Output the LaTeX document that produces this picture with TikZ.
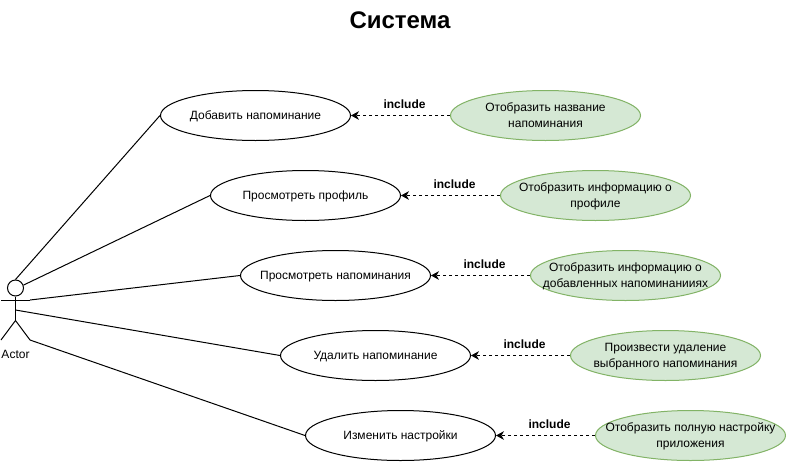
\documentclass[tikz,border=0pt]{standalone}
\usepackage{fontspec}
\setmainfont{Liberation Sans}
\usetikzlibrary{shapes.geometric,arrows.meta}
\newcommand{\dong}[1]{\makebox[0pt]{\raisebox{0pt}[7.5pt][1pt]{#1}}}
\definecolor{xanh}{HTML}{D5E8D4}
\definecolor{vien}{HTML}{82B366}
\begin{document}
\begin{tikzpicture}[x=0.75pt,y=-0.75pt,>={Stealth[length=6pt,width=6.5pt]},font=\fontsize{9}{12}\selectfont]
	\tikzset{
		vieclam/.style={draw,ellipse,minimum width=142.5pt,minimum height=37.5pt,inner sep=0pt,align=center,line width=0.75pt},
		hienthi/.style={vieclam,draw=vien,fill=xanh},
		noi/.style={->,dash pattern=on 2.25pt off 2.25pt,line width=0.75pt},
		nhan/.style={pos=0.5,above=4.5pt,xshift=3pt,inner sep=0pt,font=\fontsize{9}{12}\selectfont\bfseries}
	}
	\useasboundingbox (0,0) rectangle (786,461);
	
	% Tiêu đề
	\path (400,20) node[font=\fontsize{18}{22}\selectfont\bfseries] (tieude) {Система};
	
	% Người dùng (Actor)
	\path (15.5,288) node[draw,circle,minimum size=12pt,inner sep=0pt,line width=0.75pt] (dau) {}
	(15.5,300) coordinate (vai)
	(1,300) coordinate (tayT)
	(30,300) coordinate (tayP)
	(15.5,310) coordinate (than)
	(15.5,320.5) coordinate (hong)
	(1,340) coordinate (chanT)
	(30,340) coordinate (chanP)
	(15.5,354) node[inner sep=0pt] (actor) {Actor};
	\draw[line width=0.75pt] (dau.south) -- (vai) -- (than) -- (hong);
	\draw[line width=0.75pt] (tayT) -- (tayP);
	\draw[line width=0.75pt] (chanT) -- (hong) -- (chanP);
	
	% Các ca sử dụng
	\path (255.5,115.5) node[vieclam] (them) {\dong{Добавить напоминание}}
	(305.5,195.5) node[vieclam] (hoso) {\dong{Просмотреть профиль}}
	(335.5,275.5) node[vieclam] (xem) {\dong{Просмотреть напоминания}}
	(375.5,355.5) node[vieclam] (xoa) {\dong{Удалить напоминание}}
	(400.5,435.5) node[vieclam] (caidat) {\dong{Изменить настройки}};
	
	% Các ca được bao gồm
	\path (545.5,115.5) node[hienthi] (ten) {\dong{Отобразить название}\\\dong{напоминания}}
	(595.5,195.5) node[hienthi] (ttin) {\dong{Отобразить информацию о}\\\dong{профиле}}
	(625.5,275.5) node[hienthi] (ds) {\dong{Отобразить информацию о}\\\dong{добавленных напоминанииях}}
	(665.5,355.5) node[hienthi] (chon) {\dong{Произвести удаление}\\\dong{выбранного напоминания}}
	(690.5,435.5) node[hienthi] (daydu) {\dong{Отобразить полную настройку}\\\dong{приложения}};
	
	% Đường nối từ Actor
	\draw[line width=0.75pt] (dau.north) -- (them.west);
	\draw[line width=0.75pt] (dau.20) -- (hoso.west);
	\draw[line width=0.75pt] (tayP) -- (xem.west);
	\draw[line width=0.75pt] (than) -- (xoa.west);
	\draw[line width=0.75pt] (chanP) -- (caidat.west);
	
	% Mũi tên include
	\draw[noi] (ten.west) -- (them.east) node[nhan]{include};
	\draw[noi] (ttin.west) -- (hoso.east) node[nhan]{include};
	\draw[noi] (ds.west) -- (xem.east) node[nhan]{include};
	\draw[noi] (chon.west) -- (xoa.east) node[nhan]{include};
	\draw[noi] (daydu.west) -- (caidat.east) node[nhan]{include};
\end{tikzpicture}
\end{document}
